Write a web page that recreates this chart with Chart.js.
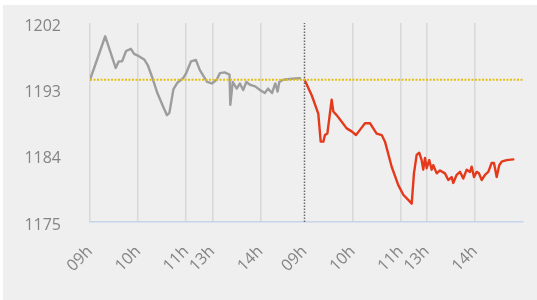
<!DOCTYPE html>
<html>
<head>
<meta charset="utf-8">
<script src="https://cdn.jsdelivr.net/npm/chart.js@4.4.1/dist/chart.umd.min.js"></script>
<style>
  html, body { margin: 0; padding: 0; background: #fff; }
  #panel { position: absolute; left: 3px; top: 5px; width: 534px; height: 295px; background: #efefef; }
  #wrap { position: absolute; left: 0; top: 0; width: 537px; height: 300px; }
</style>
</head>
<body>
<div id="panel"></div>
<div id="wrap"><canvas id="priceChart" width="537" height="300"></canvas></div>
<script>
"use strict";

// x positions are trading minutes since the first open (two sessions back to back)
const tickPos = [0, 60, 120, 152.5, 212.5, 267.5, 327.5, 387.5, 420, 480];
const tickLabels = ["09h", "10h", "11h", "13h", "14h", "09h", "10h", "11h", "13h", "14h"];
const yTicks = [1175, 1184, 1193, 1202];
const sessionStart = 267.5;
const prevClose = 1194.3;

// day 1 (grey)
const grayX = [0, 19, 32, 36, 40, 45, 51, 55, 61, 68, 72, 78, 84, 91, 96, 99, 104, 109, 116, 120,
  126, 132, 137, 146, 152, 158, 162, 168, 174, 175, 178, 183, 187, 191, 195, 200, 206, 212, 218,
  222, 227, 231, 234, 236, 241, 249, 260, 262];
const grayY = [1194.3, 1200.2, 1195.9, 1196.8, 1196.8, 1198.2, 1198.5, 1197.8, 1197.5, 1197.0,
  1196.3, 1194.5, 1192.5, 1190.7, 1189.5, 1189.8, 1193.0, 1193.9, 1194.5, 1195.2, 1196.8, 1197.0,
  1195.6, 1194.0, 1193.8, 1194.3, 1195.2, 1195.3, 1195.0, 1190.9, 1194.0, 1193.1, 1193.8, 1192.9,
  1194.0, 1193.6, 1193.4, 1192.9, 1192.5, 1193.1, 1192.5, 1193.8, 1192.7, 1194.0, 1194.3, 1194.4,
  1194.5, 1194.5];

// day 2 (red)
const redX = [267.5, 276.5, 284.7, 287.7, 291, 293, 296, 301.4, 303.4, 307.6, 313.9, 320.1, 326.3,
  331.7, 336.7, 342.9, 349.2, 353.3, 357.5, 363.8, 367.9, 376.2, 384.5, 390.7, 396.9, 401.2, 404,
  407.4, 410.6, 413.6, 415.6, 417.8, 419.9, 423.1, 426.1, 428.1, 432.4, 436.5, 442.7, 446.8, 451,
  453, 457.3, 461.4, 465.5, 469.8, 473.9, 476, 478.9, 482.2, 485.1, 488.5, 492.6, 496.7, 500.9,
  503.8, 507.2, 510.4, 513.4, 519.6, 527.9];
const redY = [1194.3, 1192.2, 1189.7, 1185.9, 1185.9, 1186.8, 1187.0, 1191.6, 1190.0, 1189.5,
  1188.6, 1187.7, 1187.3, 1186.8, 1187.5, 1188.4, 1188.4, 1187.7, 1187.0, 1186.8, 1185.9, 1182.5,
  1180.0, 1178.7, 1178.0, 1177.5, 1181.6, 1184.1, 1184.4, 1183.4, 1182.1, 1183.7, 1182.3, 1183.4,
  1182.1, 1182.7, 1181.6, 1182.0, 1181.6, 1180.7, 1181.1, 1180.3, 1181.4, 1181.8, 1180.9, 1182.1,
  1181.8, 1182.5, 1181.1, 1181.8, 1181.6, 1180.7, 1181.4, 1181.8, 1183.0, 1183.0, 1181.1, 1182.7,
  1183.2, 1183.4, 1183.5];

const pts = (xs, ys) => xs.map((x, i) => ({ x: x, y: ys[i] }));
const labelColor = "#848484";
const font = { family: "'Open Sans', 'DejaVu Sans', sans-serif", size: 16 };

var ctx = document.getElementById("priceChart").getContext("2d");
var chart = new Chart(ctx, {
  type: "line",
  data: {
    datasets: [
      {
        label: "prev close",
        data: [{ x: 0, y: prevClose }, { x: 540, y: prevClose }],
        borderColor: "#e3bf12",
        borderWidth: 2,
        borderDash: [2, 1.5],
        pointRadius: 0
      },
      {
        label: "session",
        data: [{ x: sessionStart, y: 1175 }, { x: sessionStart, y: 1202 }],
        borderColor: "#6a6a6a",
        borderWidth: 1.5,
        borderDash: [1.5, 1.5],
        pointRadius: 0
      },
      {
        label: "day 1",
        data: pts(grayX, grayY),
        borderColor: "#9d9d9d",
        borderWidth: 2.4,
        borderJoinStyle: "round",
        borderCapStyle: "round",
        pointRadius: 0
      },
      {
        label: "day 2",
        data: pts(redX, redY),
        borderColor: "#e5391c",
        borderWidth: 2.4,
        borderJoinStyle: "round",
        borderCapStyle: "round",
        pointRadius: 0
      }
    ]
  },
  options: {
    responsive: false,
    animation: false,
    layout: { padding: { top: 23, right: 14, left: 0, bottom: 0 } },
    plugins: { legend: { display: false }, tooltip: { enabled: false } },
    scales: {
      x: {
        type: "linear",
        min: 0,
        max: 540,
        afterFit: s => { s.height = 78; s.paddingLeft = 0; s.paddingRight = 0; },
        afterBuildTicks: s => { s.ticks = tickPos.map(v => ({ value: v })); },
        grid: {
          drawTicks: false,
          lineWidth: 1.5,
          color: c => (c.tick && c.tick.value === sessionStart) ? "rgba(0,0,0,0)" : "#d8d8d8"
        },
        border: { display: true, color: "#c7d4ea", width: 1.5 },
        ticks: {
          autoSkip: false,
          minRotation: 45,
          maxRotation: 45,
          padding: 20,
          color: labelColor,
          font: font,
          callback: v => tickLabels[tickPos.indexOf(v)]
        }
      },
      y: {
        min: 1175,
        max: 1202,
        afterFit: s => { s.width = 90; s.paddingTop = 0; s.paddingBottom = 0; },
        afterBuildTicks: s => { s.ticks = yTicks.map(v => ({ value: v })); },
        grid: { display: false, drawTicks: false },
        border: { display: false },
        ticks: {
          padding: 29,
          labelOffset: 3,
          color: labelColor,
          font: font,
          callback: v => String(v)
        }
      }
    }
  }
});
</script>
</body>
</html>
